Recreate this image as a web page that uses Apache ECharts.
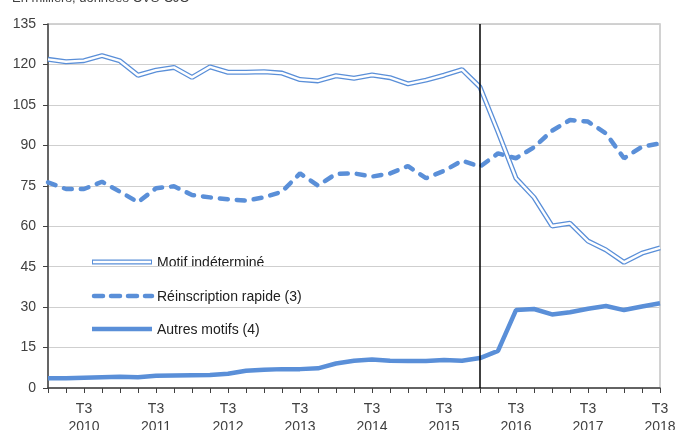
<!DOCTYPE html>
<html>
<head>
<meta charset="utf-8">
<script src="https://cdn.jsdelivr.net/npm/echarts@6/dist/echarts.min.js"></script>
<style>
  html, body { margin: 0; padding: 0; background: #fff; }
  #chart { width: 678px; height: 430px; }
</style>
</head>
<body>
<div id="chart"></div>
<script>
// trimestres T1 2010 -> T3 2018
const quarters = [
  'T1 2010', 'T2 2010', 'T3 2010', 'T4 2010',
  'T1 2011', 'T2 2011', 'T3 2011', 'T4 2011',
  'T1 2012', 'T2 2012', 'T3 2012', 'T4 2012',
  'T1 2013', 'T2 2013', 'T3 2013', 'T4 2013',
  'T1 2014', 'T2 2014', 'T3 2014', 'T4 2014',
  'T1 2015', 'T2 2015', 'T3 2015', 'T4 2015',
  'T1 2016', 'T2 2016', 'T3 2016', 'T4 2016',
  'T1 2017', 'T2 2017', 'T3 2017', 'T4 2017',
  'T1 2018', 'T2 2018', 'T3 2018'
]
const motifIndetermine = [121.9, 121.0, 121.4, 123.3, 121.3, 116.0, 117.9, 118.9, 115.2, 119.1, 117.1, 117.1, 117.3, 116.8, 114.4, 113.9, 115.8, 114.9, 116.1, 115.1, 112.8, 114.2, 116.0, 118.1, 111.6, 95.0, 77.8, 70.7, 60.1, 61.1, 54.5, 51.2, 46.6, 50.0, 52.0]
const reinscriptionRapide = [76.3, 73.8, 73.8, 76.5, 72.8, 68.9, 74.1, 74.8, 71.6, 70.7, 70.0, 69.5, 70.7, 72.8, 79.6, 75.1, 79.4, 79.6, 78.4, 79.6, 82.3, 77.8, 80.5, 84.3, 82.1, 87.0, 85.2, 89.3, 95.4, 99.4, 98.8, 94.4, 85.2, 89.5, 90.7]
const autresMotifs = [3.6, 3.6, 3.8, 4.0, 4.2, 4.0, 4.5, 4.6, 4.7, 4.8, 5.3, 6.4, 6.8, 7.0, 7.0, 7.3, 9.1, 10.1, 10.6, 10.1, 10.0, 10.0, 10.4, 10.1, 11.1, 13.8, 28.9, 29.3, 27.3, 28.1, 29.4, 30.4, 28.9, 30.2, 31.4]
const ruptureQuarter = 'T1 2016'
const legendNames = ['Motif indéterminé', 'Réinscription rapide (3)', 'Autres motifs (4)']

const blue = '#5a8fd8'
const textColor = '#404040'
const font = 'Liberation Sans, Arial, sans-serif'

const chart = echarts.init(document.getElementById('chart'))

// legende dessinee a la main (le trait double n'existe pas en icone)
const legendY = [262, 296, 329]
const legendGraphics = []
legendY.forEach((y, i) => {
  if (i === 0) {
    legendGraphics.push({ type: 'line', shape: { x1: 92, y1: y, x2: 152, y2: y }, style: { stroke: blue, lineWidth: 5 } })
    legendGraphics.push({ type: 'line', shape: { x1: 93, y1: y, x2: 151, y2: y }, style: { stroke: '#fff', lineWidth: 2.4 } })
  } else if (i === 1) {
    legendGraphics.push({ type: 'line', shape: { x1: 94, y1: y, x2: 152, y2: y }, style: { stroke: blue, lineWidth: 4.5, lineDash: [9, 8], lineCap: 'round' } })
  } else {
    legendGraphics.push({ type: 'line', shape: { x1: 92, y1: y, x2: 152, y2: y }, style: { stroke: blue, lineWidth: 4.5 } })
  }
  legendGraphics.push({
    type: 'text', left: 157, top: y - 6,
    style: { text: legendNames[i], font: '14px ' + font, fill: '#202020' }
  })
})

chart.setOption({
  animation: false,
  backgroundColor: '#fff',
  grid: {
    left: 48, right: 18, top: 24, bottom: 42,
    outerBoundsMode: 'none',
    containLabel: false,
    show: true, borderColor: '#c4c4c4', borderWidth: 1.5
  },
  xAxis: {
    type: 'category',
    data: quarters,
    boundaryGap: false,
    axisLine: { lineStyle: { color: '#404040', width: 1.5 } },
    axisTick: { interval: 0, length: 5, lineStyle: { color: '#404040' } },
    axisLabel: {
      interval: (index) => index % 4 === 2,
      color: textColor,
      fontFamily: font,
      fontSize: 14,
      lineHeight: 18,
      margin: 12,
      formatter: (v) => v.replace(' ', '\n')
    },
    splitLine: { show: false }
  },
  yAxis: {
    type: 'value',
    min: 0,
    max: 135,
    interval: 15,
    axisLine: { show: true, lineStyle: { color: '#404040', width: 1.5 } },
    axisTick: { show: true, length: 5, lineStyle: { color: '#404040' } },
    axisLabel: { color: textColor, fontFamily: font, fontSize: 14, margin: 12 },
    splitLine: { lineStyle: { color: '#cfcfcf', width: 1.2 } }
  },
  graphic: [
    {
      type: 'text', left: 12, top: -8,
      style: { text: 'En milliers, données CVS-CJO', font: '13px ' + font, fill: textColor }
    }
  ].concat(legendGraphics),
  series: [
    {
      name: legendNames[0],
      type: 'line',
      data: motifIndetermine,
      symbol: 'none',
      lineStyle: { color: blue, width: 5 },
      z: 2,
      markLine: {
        silent: true,
        symbol: 'none',
        label: { show: false },
        lineStyle: { color: '#000', width: 1.5, type: 'solid' },
        data: [{ xAxis: ruptureQuarter }]
      }
    },
    {
      name: legendNames[0] + ' (int)',
      type: 'line',
      data: motifIndetermine,
      symbol: 'none',
      lineStyle: { color: '#fff', width: 2.4 },
      z: 3
    },
    {
      name: legendNames[1],
      type: 'line',
      data: reinscriptionRapide,
      symbol: 'none',
      lineStyle: { color: blue, width: 4.5, type: [8, 9], cap: 'round' },
      z: 4
    },
    {
      name: legendNames[2],
      type: 'line',
      data: autresMotifs,
      symbol: 'none',
      lineStyle: { color: blue, width: 4.5 },
      z: 4
    }
  ]
})
</script>
</body>
</html>
